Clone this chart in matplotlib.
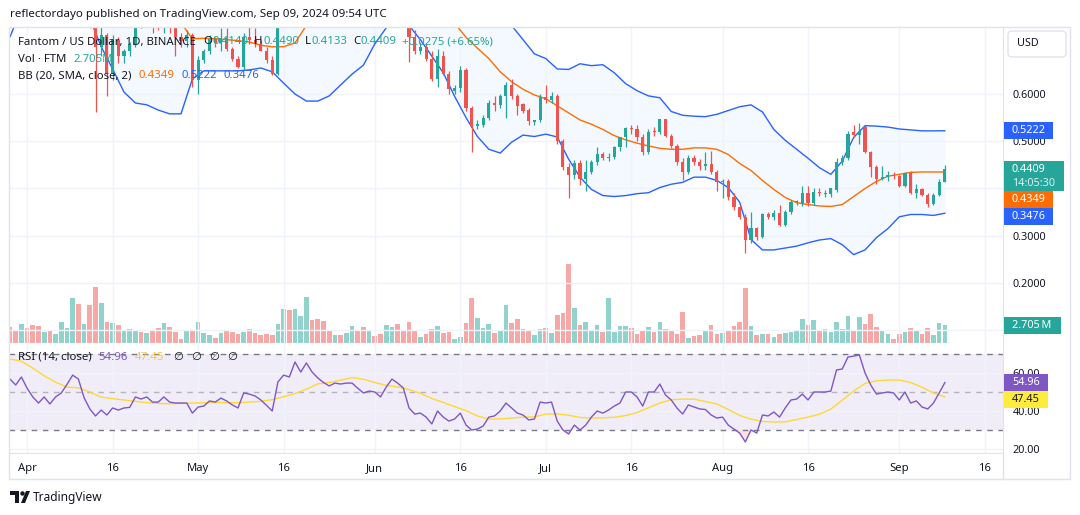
import numpy as np
import pandas as pd
import matplotlib
matplotlib.use("Agg")
import matplotlib.pyplot as plt
import matplotlib.dates as mdates
from matplotlib.patches import Rectangle, FancyBboxPatch, Circle, Polygon
from matplotlib.ticker import FuncFormatter

plt.rcParams['font.family'] = ['Noto Sans', 'DejaVu Sans']

# FTM/USD daily candles, Mar 29 -> Sep 9 2024
open_ = [1.00, 0.98, 0.965, 0.99, 0.95, 0.90, 0.885, 0.915, 0.89, 0.92,
         0.95, 0.965, 1.00, 0.94, 0.955, 0.745, 0.70, 0.725, 0.645, 0.715,
         0.68, 0.69, 0.705, 0.76, 0.752, 0.775, 0.75, 0.745, 0.77, 0.748,
         0.72, 0.712, 0.725, 0.63, 0.673, 0.69, 0.717, 0.708, 0.718, 0.695,
         0.675, 0.657, 0.72, 0.714, 0.705, 0.69, 0.672, 0.643, 0.76, 0.78,
         0.76, 0.79, 0.81, 0.88, 0.86, 0.84, 0.82, 0.80, 0.83, 0.82,
         0.85, 0.86, 0.835, 0.82, 0.84, 0.83, 0.81, 0.83, 0.845, 0.81,
         0.77, 0.72, 0.69, 0.70, 0.674, 0.632, 0.68, 0.643, 0.606, 0.612,
         0.65, 0.57, 0.532, 0.535, 0.55, 0.582, 0.576, 0.595, 0.62, 0.595,
         0.578, 0.566, 0.541, 0.544, 0.594, 0.587, 0.595, 0.50, 0.445, 0.428,
         0.455, 0.42, 0.435, 0.456, 0.472, 0.465, 0.467, 0.487, 0.508, 0.528,
         0.525, 0.51, 0.477, 0.521, 0.519, 0.547, 0.512, 0.49, 0.457, 0.434,
         0.464, 0.456, 0.447, 0.451, 0.435, 0.413, 0.416, 0.383, 0.36, 0.34,
         0.291, 0.316, 0.298, 0.345, 0.339, 0.348, 0.323, 0.351, 0.371, 0.367,
         0.39, 0.37, 0.393, 0.389, 0.389, 0.396, 0.457, 0.464, 0.52, 0.513,
         0.53, 0.477, 0.445, 0.42, 0.424, 0.428, 0.426, 0.405, 0.432, 0.391,
         0.399, 0.387, 0.368, 0.386, 0.414]
high = [1.03, 1.00, 1.00, 1.01, 0.96, 0.92, 0.93, 0.92, 0.93, 0.96,
        0.98, 1.02, 1.01, 0.97, 0.96, 0.75, 0.745, 0.73, 0.725, 0.72,
        0.695, 0.71, 0.765, 0.78, 0.79, 0.78, 0.765, 0.79, 0.78, 0.755,
        0.73, 0.735, 0.73, 0.68, 0.695, 0.725, 0.72, 0.74, 0.74, 0.70,
        0.68, 0.73, 0.745, 0.74, 0.715, 0.70, 0.68, 0.77, 0.80, 0.79,
        0.80, 0.82, 0.90, 0.90, 0.88, 0.86, 0.84, 0.85, 0.85, 0.87,
        0.88, 0.87, 0.85, 0.85, 0.85, 0.84, 0.84, 0.86, 0.85, 0.82,
        0.78, 0.735, 0.71, 0.705, 0.69, 0.696, 0.69, 0.648, 0.62, 0.66,
        0.655, 0.575, 0.545, 0.555, 0.588, 0.595, 0.60, 0.625, 0.632, 0.60,
        0.58, 0.57, 0.546, 0.60, 0.62, 0.605, 0.60, 0.505, 0.455, 0.46,
        0.46, 0.46, 0.46, 0.487, 0.478, 0.475, 0.49, 0.51, 0.53, 0.535,
        0.535, 0.515, 0.525, 0.53, 0.548, 0.548, 0.515, 0.495, 0.465, 0.47,
        0.47, 0.462, 0.478, 0.479, 0.44, 0.42, 0.42, 0.39, 0.365, 0.345,
        0.35, 0.318, 0.348, 0.35, 0.355, 0.365, 0.355, 0.375, 0.376, 0.405,
        0.405, 0.40, 0.402, 0.397, 0.402, 0.465, 0.47, 0.522, 0.535, 0.538,
        0.534, 0.48, 0.45, 0.447, 0.437, 0.435, 0.428, 0.435, 0.436, 0.41,
        0.40, 0.39, 0.39, 0.42, 0.449]
low = [0.96, 0.95, 0.955, 0.94, 0.88, 0.87, 0.88, 0.88, 0.88, 0.91,
       0.94, 0.95, 0.92, 0.92, 0.74, 0.562, 0.68, 0.595, 0.63, 0.665,
       0.665, 0.68, 0.70, 0.74, 0.745, 0.73, 0.735, 0.73, 0.73, 0.68,
       0.70, 0.70, 0.615, 0.60, 0.665, 0.685, 0.70, 0.69, 0.69, 0.67,
       0.655, 0.65, 0.705, 0.70, 0.69, 0.665, 0.64, 0.64, 0.75, 0.75,
       0.75, 0.77, 0.80, 0.83, 0.81, 0.80, 0.78, 0.79, 0.81, 0.81,
       0.83, 0.82, 0.81, 0.81, 0.82, 0.80, 0.80, 0.82, 0.80, 0.76,
       0.668, 0.685, 0.685, 0.67, 0.628, 0.615, 0.64, 0.60, 0.60, 0.605,
       0.565, 0.477, 0.525, 0.53, 0.545, 0.565, 0.57, 0.55, 0.59, 0.555,
       0.56, 0.535, 0.535, 0.54, 0.582, 0.58, 0.495, 0.44, 0.38, 0.42,
       0.408, 0.395, 0.43, 0.45, 0.46, 0.458, 0.462, 0.48, 0.487, 0.515,
       0.50, 0.47, 0.472, 0.512, 0.515, 0.51, 0.485, 0.45, 0.419, 0.43,
       0.45, 0.44, 0.44, 0.43, 0.395, 0.38, 0.375, 0.355, 0.335, 0.264,
       0.285, 0.29, 0.295, 0.335, 0.333, 0.32, 0.32, 0.345, 0.365, 0.362,
       0.362, 0.365, 0.385, 0.383, 0.383, 0.392, 0.45, 0.46, 0.51, 0.495,
       0.475, 0.425, 0.41, 0.417, 0.416, 0.42, 0.403, 0.403, 0.388, 0.38,
       0.385, 0.36, 0.365, 0.384, 0.4133]
close = [0.98, 0.965, 0.99, 0.95, 0.90, 0.885, 0.915, 0.89, 0.92, 0.95,
         0.965, 1.00, 0.94, 0.955, 0.745, 0.70, 0.725, 0.645, 0.715, 0.68,
         0.69, 0.705, 0.76, 0.752, 0.775, 0.75, 0.745, 0.77, 0.748, 0.72,
         0.712, 0.725, 0.63, 0.673, 0.69, 0.717, 0.708, 0.718, 0.695, 0.675,
         0.657, 0.72, 0.714, 0.705, 0.69, 0.672, 0.643, 0.76, 0.78, 0.76,
         0.79, 0.81, 0.88, 0.86, 0.84, 0.82, 0.80, 0.83, 0.82, 0.85,
         0.86, 0.835, 0.82, 0.84, 0.83, 0.81, 0.83, 0.845, 0.81, 0.77,
         0.72, 0.69, 0.70, 0.674, 0.632, 0.68, 0.643, 0.61, 0.612, 0.65,
         0.57, 0.535, 0.537, 0.55, 0.58, 0.576, 0.595, 0.62, 0.595, 0.575,
         0.565, 0.542, 0.544, 0.594, 0.587, 0.595, 0.50, 0.445, 0.428, 0.455,
         0.42, 0.435, 0.456, 0.472, 0.465, 0.467, 0.487, 0.508, 0.528, 0.525,
         0.51, 0.477, 0.52, 0.519, 0.547, 0.512, 0.49, 0.457, 0.434, 0.464,
         0.456, 0.447, 0.451, 0.435, 0.413, 0.416, 0.383, 0.36, 0.34, 0.291,
         0.316, 0.298, 0.345, 0.339, 0.348, 0.323, 0.351, 0.372, 0.373, 0.39,
         0.37, 0.393, 0.39, 0.391, 0.40, 0.457, 0.464, 0.515, 0.513, 0.522,
         0.477, 0.445, 0.42, 0.424, 0.428, 0.426, 0.405, 0.432, 0.391, 0.398,
         0.387, 0.368, 0.386, 0.4134, 0.4409]
# volume in millions of FTM
volume = [2.40, 1.79, 2.86, 2.25, 2.70, 2.55, 1.63, 1.79, 1.33, 3.16,
          2.25, 6.83, 5.91, 2.86, 5.76, 8.51, 6.07, 3.16, 3.01, 2.70,
          1.94, 2.09, 1.94, 1.63, 1.48, 1.94, 2.25, 3.01, 2.40, 1.63,
          0.57, 1.79, 1.94, 3.16, 1.48, 1.18, 0.72, 1.48, 1.79, 1.63,
          1.33, 1.63, 2.09, 1.48, 1.18, 1.33, 1.18, 2.86, 5.15, 5.00,
          5.15, 4.08, 6.98, 3.47, 3.62, 3.32, 1.94, 1.18, 1.18, 1.48,
          2.55, 1.79, 2.40, 1.79, 1.02, 1.33, 2.70, 2.40, 2.86, 1.79,
          3.16, 1.79, 0.87, 1.33, 2.09, 2.55, 1.48, 1.63, 0.57, 0.87,
          3.01, 6.83, 3.77, 2.25, 2.86, 1.48, 1.94, 5.76, 3.01, 3.62,
          2.09, 1.94, 1.18, 2.09, 2.25, 1.48, 4.23, 4.54, 12.03, 5.30,
          2.70, 3.16, 1.94, 2.70, 1.63, 6.83, 1.63, 2.55, 2.55, 2.25,
          1.33, 1.79, 2.40, 1.63, 3.16, 2.09, 1.94, 1.33, 4.69, 0.72,
          1.02, 1.18, 1.79, 2.70, 1.33, 1.48, 1.79, 2.55, 3.16, 8.36,
          2.55, 1.18, 1.33, 1.33, 0.87, 1.33, 1.48, 1.63, 1.79, 3.62,
          2.70, 3.47, 1.79, 2.09, 1.63, 3.16, 2.09, 4.08, 1.79, 3.93,
          2.86, 4.39, 2.40, 1.94, 1.33, 0.57, 1.33, 1.63, 2.25, 1.79,
          1.33, 2.25, 1.18, 3.01, 2.705]
rsi = [56.8, 53.7, 57.9, 52.0, 47.4, 44.2, 47.4, 43.7, 47.4, 49.5,
       54.0, 58.9, 56.8, 47.0, 41.1, 37.4, 40.5, 37.9, 41.6, 40.5,
       41.6, 41.9, 47.4, 46.3, 47.4, 44.7, 44.7, 47.4, 44.7, 44.2,
       44.2, 44.2, 38.9, 42.1, 42.6, 45.3, 44.7, 46.8, 45.3, 43.2,
       41.6, 49.5, 48.9, 47.9, 45.8, 43.0, 40.0, 55.3, 58.9, 57.9,
       65.8, 60.5, 65.3, 60.5, 57.4, 55.0, 53.2, 54.7, 54.2, 54.7,
       54.7, 52.0, 49.5, 50.5, 50.0, 47.4, 52.6, 56.8, 54.7, 52.1,
       41.6, 38.4, 38.9, 36.8, 33.2, 40.0, 36.8, 34.7, 35.8, 38.9,
       32.6, 30.0, 30.5, 32.1, 36.8, 37.4, 40.0, 44.2, 41.6, 38.9,
       37.9, 35.3, 35.8, 44.7, 44.2, 44.7, 34.7, 30.0, 27.9, 32.6,
       30.0, 32.6, 36.8, 40.0, 38.9, 40.5, 42.6, 44.2, 50.0, 50.0,
       47.4, 42.6, 50.0, 50.0, 54.2, 48.4, 45.8, 41.6, 38.4, 43.2,
       42.1, 41.1, 40.8, 37.9, 36.3, 36.8, 32.6, 30.5, 28.4, 23.7,
       30.0, 28.4, 37.9, 37.4, 39.5, 36.8, 41.6, 45.8, 46.3, 48.9,
       45.8, 50.0, 50.0, 50.0, 50.5, 61.6, 62.1, 68.4, 68.9, 69.5,
       60.0, 53.7, 48.9, 49.5, 50.0, 49.5, 45.8, 50.0, 44.2, 45.3,
       42.1, 41.1, 44.2, 49.5, 54.96]

# smooth indicator lines, read every 2nd day
bb_upper = [1.20, 1.19, 1.18, 1.15, 1.12, 1.10, 1.08, 1.08, 1.08, 1.07,
            1.05, 1.03, 1.00, 0.98, 0.96, 0.93, 0.90, 0.87, 0.86, 0.85,
            0.84, 0.835, 0.83, 0.82, 0.82, 0.84, 0.86, 0.89, 0.92, 0.93,
            0.94, 0.94, 0.93, 0.915, 0.90, 0.91, 0.92, 0.93, 0.93, 0.925,
            0.92, 0.90, 0.87, 0.81, 0.745, 0.715, 0.685, 0.675, 0.653, 0.652,
            0.664, 0.66, 0.662, 0.645, 0.622, 0.607, 0.596, 0.592, 0.563, 0.555,
            0.553, 0.552, 0.557, 0.565, 0.573, 0.577, 0.562, 0.525, 0.502, 0.483,
            0.464, 0.444, 0.43, 0.458, 0.508, 0.533, 0.532, 0.53, 0.526, 0.524,
            0.522, 0.522, 0.5222]
bb_mid = [1.00, 0.99, 0.98, 0.965, 0.95, 0.94, 0.93, 0.91, 0.88, 0.86,
          0.84, 0.82, 0.80, 0.785, 0.77, 0.75, 0.717, 0.718, 0.717, 0.715,
          0.713, 0.71, 0.703, 0.70, 0.70, 0.708, 0.745, 0.76, 0.78, 0.79,
          0.80, 0.81, 0.82, 0.825, 0.83, 0.83, 0.82, 0.80, 0.78, 0.75,
          0.72, 0.697, 0.675, 0.647, 0.626, 0.61, 0.598, 0.59, 0.575, 0.56,
          0.545, 0.536, 0.525, 0.512, 0.503, 0.496, 0.49, 0.485, 0.483, 0.483,
          0.486, 0.486, 0.483, 0.472, 0.453, 0.438, 0.417, 0.398, 0.381, 0.37,
          0.366, 0.363, 0.362, 0.366, 0.383, 0.40, 0.415, 0.426, 0.43, 0.434,
          0.435, 0.435, 0.4349]
bb_lower = [0.721, 0.78, 0.82, 0.84, 0.85, 0.84, 0.82, 0.76, 0.70, 0.653,
            0.604, 0.581, 0.577, 0.566, 0.558, 0.558, 0.632, 0.649, 0.649, 0.649,
            0.649, 0.651, 0.655, 0.647, 0.623, 0.60, 0.585, 0.585, 0.596, 0.619,
            0.642, 0.661, 0.706, 0.74, 0.78, 0.745, 0.715, 0.68, 0.645, 0.595,
            0.55, 0.51, 0.483, 0.475, 0.498, 0.513, 0.51, 0.515, 0.509, 0.462,
            0.424, 0.398, 0.385, 0.383, 0.385, 0.389, 0.391, 0.402, 0.409, 0.413,
            0.424, 0.424, 0.417, 0.402, 0.371, 0.292, 0.27, 0.27, 0.274, 0.278,
            0.285, 0.291, 0.294, 0.281, 0.26, 0.27, 0.296, 0.315, 0.34, 0.345,
            0.345, 0.343, 0.3476]
rsi_ma = [67.4, 66.2, 62.6, 58.5, 55.2, 52.6, 52.2, 50.0, 47.3, 46.5,
          45.8, 45.1, 44.4, 44.0, 43.8, 44.1, 44.2, 44.3, 44.6, 44.4,
          44.4, 44.7, 45.1, 46.0, 47.5, 49.2, 51.5, 54.3, 55.0, 56.2,
          57.6, 56.7, 55.0, 53.5, 52.7, 51.3, 49.3, 46.6, 44.5, 42.3,
          40.2, 37.4, 35.8, 35.8, 36.3, 36.8, 36.9, 38.4, 38.5, 37.8,
          36.6, 36.3, 36.4, 36.7, 37.6, 39.2, 41.7, 44.2, 45.9, 46.3,
          46.2, 45.0, 43.7, 40.8, 37.7, 35.7, 34.5, 34.2, 34.3, 35.5,
          36.8, 38.3, 41.0, 45.7, 50.5, 54.5, 55.9, 56.3, 56.3, 55.0,
          52.5, 49.5, 47.45]

tick_days = ['2024-04-01', '2024-04-16', '2024-05-01', '2024-05-16', '2024-06-01', '2024-06-16',
             '2024-07-01', '2024-07-16', '2024-08-01', '2024-08-16', '2024-09-01', '2024-09-16']
tick_names = ['Apr', '16', 'May', '16', 'Jun', '16', 'Jul', '16', 'Aug', '16', 'Sep', '16']

W, H = 1080, 515
UP = '#26a69a'
DOWN = '#ef5350'
TXT = '#131722'
GRID = '#f0f3fa'
BORDER = '#e0e3eb'
BLUE = '#2962ff'
ORANGE = '#ff6d00'
PURPLE = '#7e57c2'
YELLOW = '#fdd835'
FS = 7.8        # axis labels
FS_LEG = 8.2    # legend lines

dates = pd.date_range('2024-03-29', periods=len(close), freq='D')
band_dates = pd.date_range('2024-03-29', periods=len(bb_mid), freq='2D')
o = np.array(open_)
c = np.array(close)
colors = np.where(c >= o, UP, DOWN)


def px(x0, y0, x1, y1):
    return [x0 / W, 1 - y1 / H, (x1 - x0) / W, (y1 - y0) / H]


fig = plt.figure(figsize=(W / 100, H / 100), dpi=100)
fig.patch.set_facecolor('white')

ax_vol = fig.add_axes(px(9, 27, 1003, 343))
ax = fig.add_axes(px(9, 27, 1003, 343), sharex=ax_vol)
ax.patch.set_visible(False)
ax_rsi = fig.add_axes(px(9, 343, 1003, 453), sharex=ax_vol)

x0 = mdates.date2num(dates[0])
ax_vol.set_xlim(x0 - 0.175, x0 + 174.2)
tick_nums = mdates.date2num(pd.to_datetime(tick_days))

# volume behind the candles
ax_vol.bar(dates, volume, width=0.82, color=colors, alpha=0.5, linewidth=0)
ax_vol.set_ylim(0, 48.3)
ax_vol.set_yticks([])
for s in ax_vol.spines.values():
    s.set_visible(False)
ax_vol.tick_params(axis='x', length=0, labelbottom=False)

# bollinger bands
ax.fill_between(band_dates, bb_lower, bb_upper, color='#2196f3', alpha=0.05, lw=0, zorder=1)
ax.plot(band_dates, bb_upper, color=BLUE, lw=1, zorder=2)
ax.plot(band_dates, bb_lower, color=BLUE, lw=1, zorder=2)
ax.plot(band_dates, bb_mid, color=ORANGE, lw=1, zorder=2)

# candles
ax.vlines(dates, low, high, colors=colors, lw=0.9, zorder=3)
ax.bar(dates, np.maximum(np.abs(c - o), 0.0012), bottom=np.minimum(o, c),
       width=0.55, color=colors, linewidth=0, zorder=4)

ax.set_ylim(0.073, 0.7418)
ax.yaxis.tick_right()
ax.set_yticks([0.1, 0.2, 0.3, 0.4, 0.5, 0.6])
ax.yaxis.set_major_formatter(FuncFormatter(lambda v, p: f'{v:.4f}'))
ax.tick_params(axis='y', length=0, pad=7, labelsize=FS, labelcolor=TXT)
ax.tick_params(axis='x', length=0, labelbottom=False)
ax.set_xticks(tick_nums)
ax.grid(True, color=GRID, lw=1)
for k, s in ax.spines.items():
    s.set_visible(k in ('right', 'bottom'))
    s.set_color(BORDER)

# RSI pane
ax_rsi.set_ylim(17.9, 75.8)
ax_rsi.axhspan(30, 70, color=PURPLE, alpha=0.1, lw=0)
ax_rsi.axhline(70, color='#787b86', lw=1, ls=(0, (4, 4)))
ax_rsi.axhline(30, color='#787b86', lw=1, ls=(0, (4, 4)))
ax_rsi.axhline(50, color='#787b86', lw=1, ls=(0, (4, 4)), alpha=0.5)
r = np.array(rsi)
ax_rsi.fill_between(dates, r, 30, where=r < 30, interpolate=True, color='#f23645', alpha=0.15, lw=0)
ax_rsi.plot(band_dates, rsi_ma, color=YELLOW, lw=1)
ax_rsi.plot(dates, rsi, color=PURPLE, lw=1)
ax_rsi.yaxis.tick_right()
ax_rsi.set_yticks([20, 40, 60])
ax_rsi.yaxis.set_major_formatter(FuncFormatter(lambda v, p: f'{v:.2f}'))
ax_rsi.tick_params(axis='y', length=0, pad=7, labelsize=FS, labelcolor=TXT)
ax_rsi.set_xticks(tick_nums)
ax_rsi.set_xticklabels(tick_names)
ax_rsi.tick_params(axis='x', length=0, pad=7, labelsize=FS + 0.3, labelcolor=TXT)
ax_rsi.grid(True, color=GRID, lw=1)
for k, s in ax_rsi.spines.items():
    s.set_visible(k in ('right', 'bottom'))
    s.set_color(BORDER)

# overlay in pixel coordinates for labels and frame
ov = fig.add_axes([0, 0, 1, 1])
ov.set_xlim(0, W)
ov.set_ylim(H, 0)
ov.axis('off')

ov.add_patch(Rectangle((9, 27), 1061, 452, fill=False, ec=BORDER, lw=1))
ov.plot([1003, 1003], [453, 479], color=BORDER, lw=1)

ov.text(10, 14, 'reflectordayo published on TradingView.com, Sep 09, 2024 09:54 UTC',
        fontsize=8.3, color=TXT, va='center')


def chain(x, y, parts, size=FS_LEG):
    t = ov.text(x, y, parts[0][0], color=parts[0][1], fontsize=size, va='center', ha='left')
    for s, col, gap in parts[1:]:
        t = ov.annotate(s, xy=(1, 0.5), xycoords=t, xytext=(gap, 0), textcoords='offset points',
                        color=col, fontsize=size, va='center', ha='left')


chain(18, 42, [('Fantom / US Dollar, 1D, BINANCE', TXT),
               ('O', TXT, 5), ('0.4140', UP, 0.5),
               ('H', TXT, 4), ('0.4490', UP, 0.5),
               ('L', TXT, 4), ('0.4133', UP, 0.5),
               ('C', TXT, 4), ('0.4409', UP, 0.5),
               ('+0.0275 (+6.65%)', UP, 4)])
chain(18, 59, [('Vol · FTM', TXT), ('2.705M', UP, 5)])
chain(18, 76, [('BB (20, SMA, close, 2)', TXT), ('0.4349', ORANGE, 5),
               ('0.5222', BLUE, 5), ('0.3476', BLUE, 5)])
chain(18, 357, [('RSI (14, close)', TXT), ('54.96', PURPLE, 5), ('47.45', '#f2c94c', 5),
                ('\u2205', TXT, 6), ('\u2205', TXT, 6), ('\u2205', TXT, 6), ('\u2205', TXT, 6)])


def ypix(axis, v):
    return H - axis.transData.transform((x0, v))[1]


def tag(yc, text, fc, tc='white', x1=1053, h=17):
    ov.add_patch(Rectangle((1004, yc - h / 2), x1 - 1004, h, fc=fc, ec='none', zorder=5))
    ov.text(1012, yc, text, color=tc, fontsize=FS, va='center', ha='left', fontweight='bold', zorder=6)


# USD button
ov.add_patch(FancyBboxPatch((1008, 31), 58, 26, boxstyle='round,pad=0,rounding_size=4',
                            fc='white', ec=BORDER, lw=1, zorder=5))
ov.text(1017, 44, 'USD', fontsize=FS, color=TXT, va='center', zorder=6)

tag(ypix(ax, bb_upper[-1]), f'{bb_upper[-1]:.4f}', BLUE)
y_last = ypix(ax, close[-1])
ov.add_patch(Rectangle((1004, y_last - 8), 60, 30, fc=UP, ec='none', zorder=5))
ov.text(1012, y_last, f'{close[-1]:.4f}', color='white', fontsize=FS, va='center', fontweight='bold', zorder=6)
ov.text(1012, y_last + 14, '14:05:30', color='#d8f0ed', fontsize=FS, va='center', fontweight='bold', zorder=6)
tag(y_last + 30.5, f'{bb_mid[-1]:.4f}', ORANGE)
tag(y_last + 47, f'{bb_lower[-1]:.4f}', BLUE)
tag(ypix(ax_vol, volume[-1]), '2.705\u2009M', UP, x1=1061)

y_rsi = ypix(ax_rsi, rsi[-1])
tag(y_rsi, f'{rsi[-1]:.2f}', PURPLE, x1=1048)
tag(y_rsi + 17, f'{rsi_ma[-1]:.2f}', '#ffeb3b', tc=TXT, x1=1048)

# TradingView mark
ov.add_patch(Rectangle((10, 491), 9, 4, fc=TXT, ec='none'))
ov.add_patch(Rectangle((15, 491), 4, 12, fc=TXT, ec='none'))
ov.add_patch(Circle((22.5, 493.5), 2.2, fc=TXT, ec='none'))
ov.add_patch(Polygon([(21, 503), (26, 491), (30, 491), (25, 503)], closed=True, fc=TXT, ec='none'))
ov.text(33, 497, 'TradingView', fontsize=FS + 0.8, color=TXT, va='center', fontweight='bold')

fig.savefig('out.png', dpi=100, facecolor='white')
